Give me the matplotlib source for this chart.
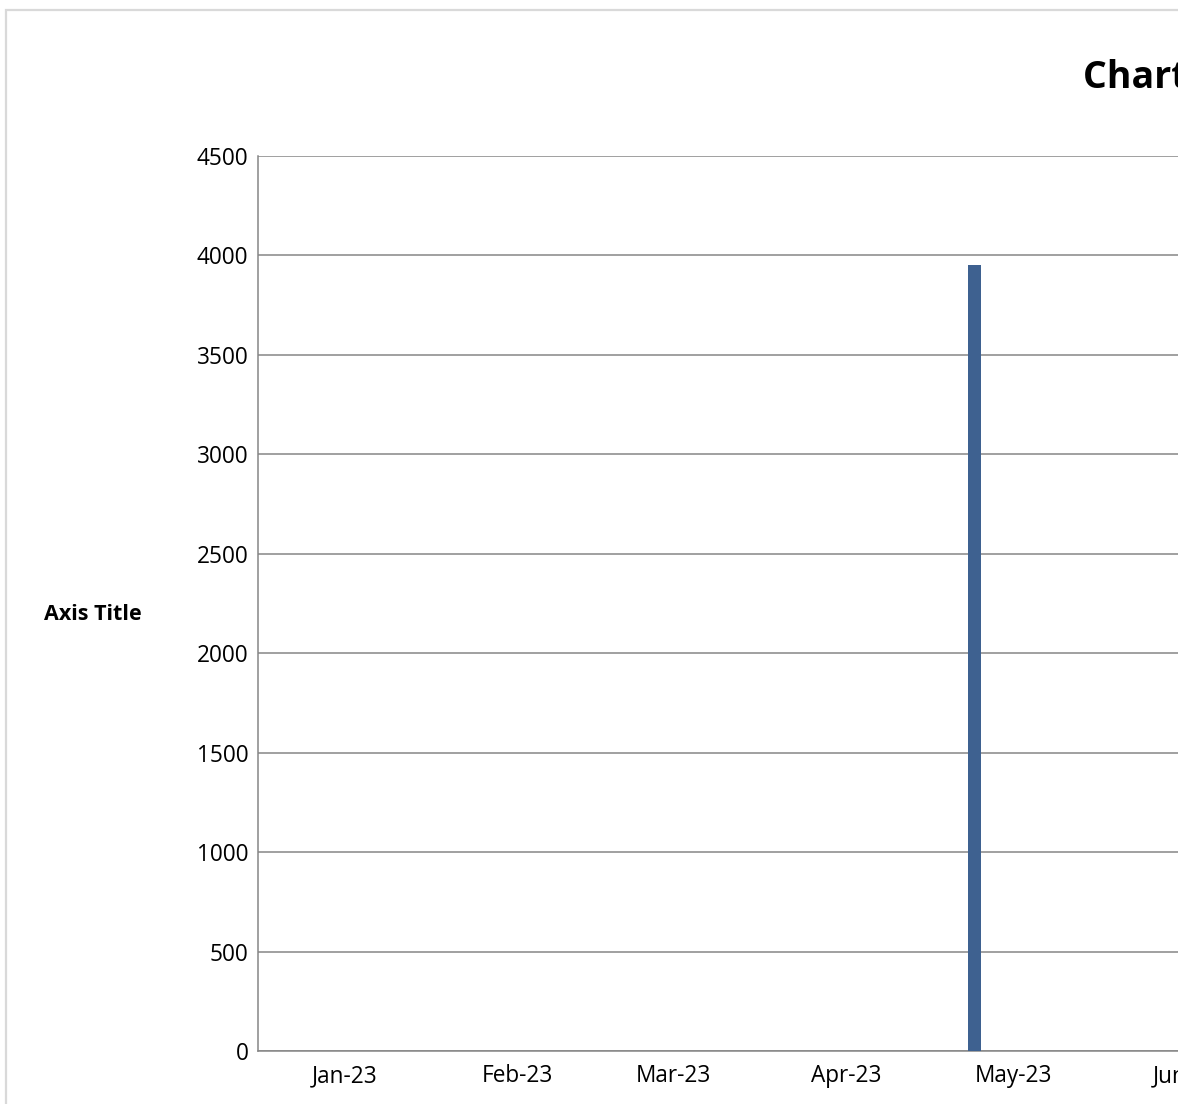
import matplotlib
matplotlib.use("Agg")
import matplotlib.pyplot as plt
import matplotlib.dates as mdates
from matplotlib.patches import Rectangle
import numpy as np
import datetime as dt

# ---- data ----
bar_dates = [dt.date(2023, 4, 24)]
bar_values = [3950]
month_ticks = [dt.date(2023, m, 1) for m in range(1, 8)]
tick_fmt = "%b-%y"
y_ticks = list(range(0, 4501, 500))
title_text = "Chart Title"
y_title = "Axis Title"

plt.rcParams['font.family'] = ['Open Sans', 'DejaVu Sans']

W, H = 1192, 1104
fig = plt.figure(figsize=(W / 100, H / 100), dpi=100)

def fx(px):
    return px / W

def fy(py):
    return 1 - py / H

# axes: left 258 px, top 156 px, bottom 1051 px, extends past right edge
ax_left, ax_top, ax_bottom, ax_right = 258, 156, 1051, 1400
ax = fig.add_axes([fx(ax_left), fy(ax_bottom), fx(ax_right - ax_left), (ax_bottom - ax_top) / H])

# x scale: Jan 1 at ~345 px, 5.57 px per day
px_per_day = 5.57
jan1 = mdates.date2num(dt.date(2023, 1, 1))
x0 = jan1 - (345.0 - ax_left) / px_per_day
x1 = jan1 + (ax_right - 345.0) / px_per_day
ax.set_xlim(x0, x1)
ax.set_ylim(0, 4500)

ax.bar(mdates.date2num(bar_dates), bar_values, width=2.3, color='#3e6190', zorder=3)

ax.set_yticks(y_ticks)
ax.set_yticklabels([str(v) for v in y_ticks])
ax.set_xticks(mdates.date2num(month_ticks))
ax.set_xticklabels([d.strftime(tick_fmt) for d in month_ticks])
ax.tick_params(axis='both', length=0, labelsize=16.3, colors='black')
ax.tick_params(axis='y', pad=7)
ax.tick_params(axis='x', pad=9.5)

ax.grid(axis='y', color='#868686', linewidth=1.1, zorder=1)
ax.set_axisbelow(True)
for s in ['top', 'right']:
    ax.spines[s].set_visible(False)
for s in ['left', 'bottom']:
    ax.spines[s].set_color('#868686')
    ax.spines[s].set_linewidth(1.1)

# titles
fig.text(fx(1083), fy(78), title_text, fontsize=27, fontweight='bold', ha='left', va='center')
fig.text(fx(93), fy(614), y_title, fontsize=15.5, fontweight='bold', ha='center', va='center')

# outer chart border
fig.add_artist(Rectangle((fx(6), fy(1200)), fx(1400), (1200 - 10) / H,
                         transform=fig.transFigure, fill=False,
                         edgecolor='#d9d9d9', linewidth=1.6, zorder=5))
# clipping of the chart on the right side
fig.add_artist(Rectangle((fx(1178), 0), fx(W - 1178) + 0.01, 1.0,
                         transform=fig.transFigure, facecolor='white',
                         edgecolor='none', zorder=20))

fig.savefig("out.png", dpi=100, facecolor='white')
